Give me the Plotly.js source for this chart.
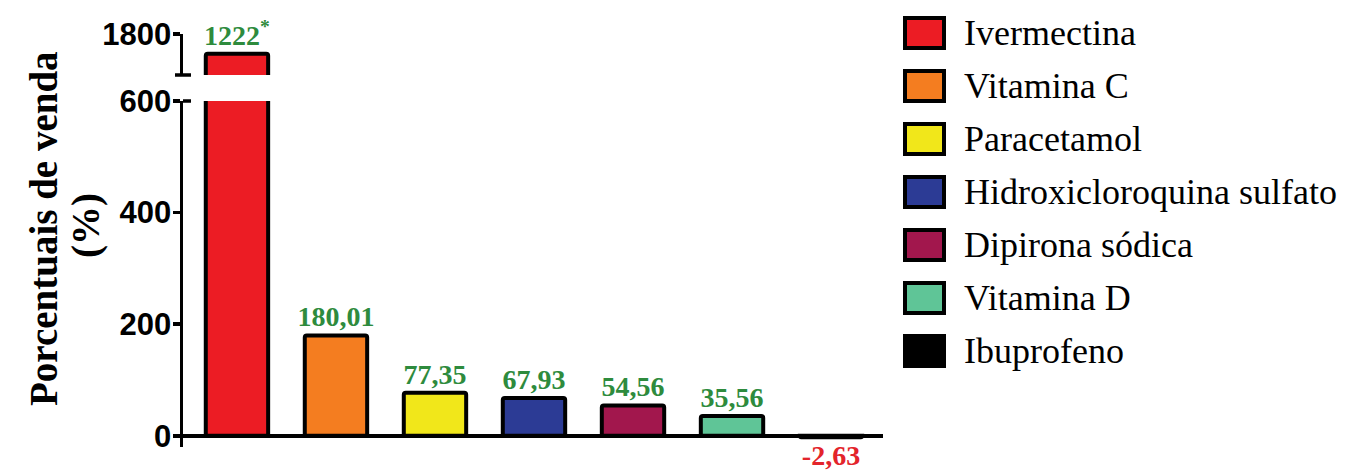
<!DOCTYPE html>
<html>
<head>
<meta charset="utf-8">
<script src="https://cdn.plot.ly/plotly-3.0.1.min.js"></script>
<style>html,body{margin:0;padding:0;background:#fff;}#chart{width:1348px;height:475px;}</style>
</head>
<body>
<div id="chart"></div>
<script>
// ---- data ----
const categories = ['Ivermectina', 'Vitamina C', 'Paracetamol', 'Hidroxicloroquina sulfato', 'Dipirona sódica', 'Vitamina D', 'Ibuprofeno'];
const values = [1222, 180.01, 77.35, 67.93, 54.56, 35.56, -2.63];
const notes = ['*', '', '', '', '', '', ''];
const colors = ['#EC1C24', '#F47D20', '#F1E71A', '#2C3B95', '#A2174D', '#5FC597', '#000000'];
const lowerTicks = [0, 200, 400, 600];
const upperTicks = [1800];
const lowerRange = [-20, 600];
const upperRange = [600, 1800];
const titleLines = ['Porcentuais de venda', '(%)'];

// ---- layout helpers (pixel -> paper) ----
const W = 1348, H = 475;
const M = {l: 183, r: 465, t: 20, b: 15};
const PW = W - M.l - M.r, PH = H - M.t - M.b;
const xp = px => (px - M.l) / PW;
const yp = py => (H - M.b - py) / PH;

const fmt = v => v.toFixed(2).replace('.', ',');
const labelOf = i => (Number.isInteger(values[i]) ? String(values[i]) : fmt(values[i])) + (notes[i] ? '<sup>' + notes[i] + '</sup>' : '');
const green = '#2E8B3D', red = '#E3242B';

const idx = categories.map((c, i) => i);
const brokenIdx = idx.filter(i => values[i] > lowerRange[1]);
const normalIdx = idx.filter(i => values[i] <= lowerRange[1]);

const barLine = {color: '#000', width: 4};
const textFont = {family: 'Liberation Serif', size: 28, weight: 'bold'};
const barW = 0.63;

function barTrace(list, axis, withText) {
  const t = {
    type: 'bar', x: list, y: list.map(i => values[i]), yaxis: axis,
    marker: {color: list.map(i => colors[i]), line: barLine, cornerradius: 2},
    width: barW, cliponaxis: false,
    hovertext: list.map(i => categories[i]), showlegend: false
  };
  if (withText) {
    t.text = list.map(i => labelOf(i));
    t.textposition = 'outside';
    t.constraintext = 'none';
    t.textfont = Object.assign({}, textFont, {color: list.map(i => values[i] < 0 ? red : green)});
  }
  return t;
}

const traces = [
  barTrace(brokenIdx, 'y', false),
  barTrace(normalIdx, 'y', true),
  barTrace(brokenIdx, 'y2', true)
];

const tickFont = {family: 'Liberation Sans', size: 31, weight: 'bold', color: '#000'};
const axisCommon = {
  showline: true, linecolor: '#000', linewidth: 3.5,
  ticks: 'outside', ticklen: 7, tickwidth: 3.5, tickcolor: '#000',
  ticklabelstandoff: -5,
  showgrid: false, tickfont: tickFont, fixedrange: true
};

const shapes = [];
const annotations = [];
// axis break marks
shapes.push({type: 'line', xref: 'paper', yref: 'paper', x0: xp(175), x1: xp(191), y0: yp(75), y1: yp(75), line: {color: '#000', width: 3.5}});
shapes.push({type: 'line', xref: 'paper', yref: 'paper', x0: xp(183), x1: xp(191), y0: yp(101), y1: yp(101), line: {color: '#000', width: 3.5}});

// custom legend
categories.forEach((c, i) => {
  const cy = 33 + i * 53;
  shapes.push({type: 'rect', xref: 'paper', yref: 'paper', x0: xp(905), x1: xp(944), y0: yp(cy + 15), y1: yp(cy - 15),
    fillcolor: colors[i], line: {color: '#000', width: 4}});
  annotations.push({xref: 'paper', yref: 'paper', x: xp(962), y: yp(cy), xanchor: 'left', yanchor: 'middle',
    text: c, showarrow: false, font: {family: 'Liberation Serif', size: 36, color: '#000'}});
});

// y-axis title (two lines)
annotations.push({xref: 'paper', yref: 'paper', x: xp(43), y: yp(229), xanchor: 'center', yanchor: 'middle',
  text: titleLines[0], textangle: -90, showarrow: false,
  font: {family: 'Liberation Serif', size: 39, weight: 'bold', color: '#000'}});
annotations.push({xref: 'paper', yref: 'paper', x: xp(86), y: yp(226), xanchor: 'center', yanchor: 'middle',
  text: titleLines[1], textangle: -90, showarrow: false,
  font: {family: 'Liberation Serif', size: 39, weight: 'bold', color: '#000'}});

const layout = {
  width: W, height: H,
  margin: M,
  paper_bgcolor: '#fff', plot_bgcolor: 'rgba(0,0,0,0)',
  barmode: 'overlay',
  xaxis: {range: [-0.545, 6.525], showline: false, showticklabels: false, ticks: '', showgrid: false, zeroline: false, fixedrange: true},
  yaxis: Object.assign({}, axisCommon, {
    domain: [yp(447), yp(101)], range: lowerRange, tickvals: lowerTicks, ticktext: lowerTicks.map(String),
    zeroline: true, zerolinecolor: '#000', zerolinewidth: 3.5
  }),
  yaxis2: Object.assign({}, axisCommon, {
    domain: [yp(75), yp(34)], range: upperRange, tickvals: upperTicks, ticktext: upperTicks.map(String),
    zeroline: false, anchor: 'x'
  }),
  shapes: shapes,
  annotations: annotations
};

Plotly.newPlot('chart', traces, layout, {displayModeBar: false, staticPlot: true});
</script>
</body>
</html>
